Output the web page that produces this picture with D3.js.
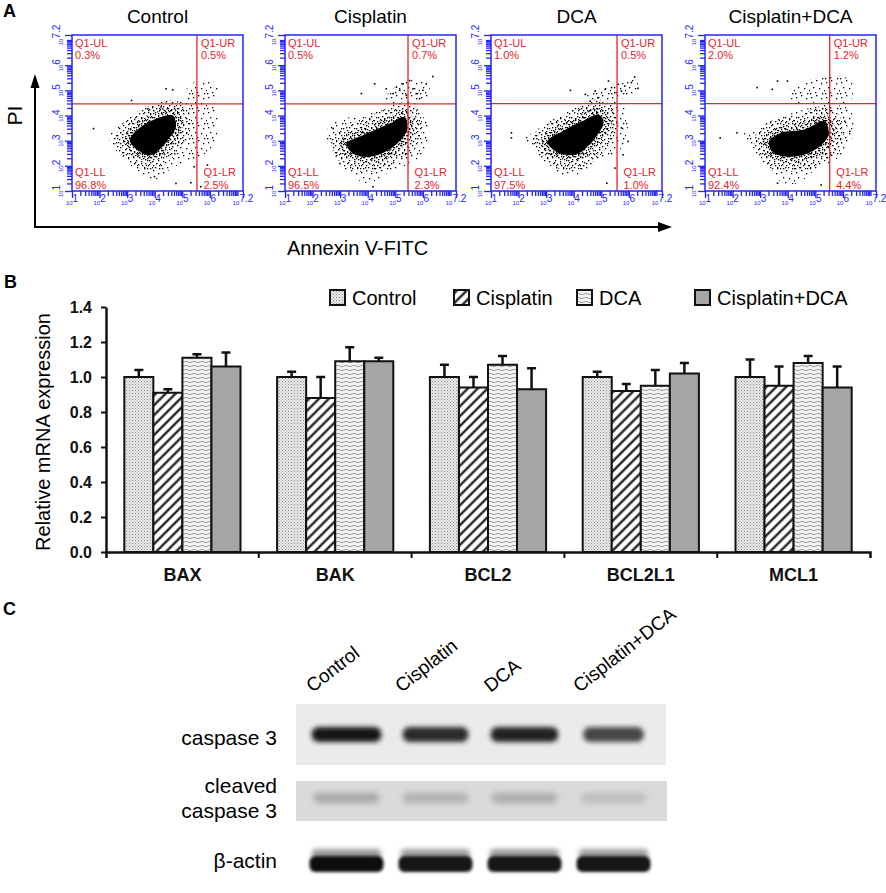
<!DOCTYPE html>
<html>
<head>
<meta charset="utf-8">
<script src="https://cdn.jsdelivr.net/npm/d3@7"></script>
<style>
body{margin:0;background:#fff}
text{font-family:Arial,'Liberation Sans',sans-serif}
</style>
</head>
<body>
<svg id="fig" width="886" height="893"></svg>
<script>
// ---------- panel A : flow cytometry (values in log10 units) ----------
var flowTitles = ['Control','Cisplatin','DCA','Cisplatin+DCA']
var pctUL = ['0.3%','0.5%','1.0%','2.0%']
var pctUR = ['0.5%','0.7%','0.5%','1.2%']
var pctLL = ['96.8%','96.5%','97.5%','92.4%']
var pctLR = ['2.5%','2.3%','1.0%','4.4%']
var gateX = [5.53,5.46,5.57,5.52]
var gateY = [4.46,4.46,4.47,4.47]
var flowExp = [1,2,3,4,5,6,7.2]

// dense core of each population
var coreCloud = [
	[[3.10,3.02],[3.51,3.55],[4.23,3.94],[4.65,4.01],[4.77,3.55],[4.47,3.02],[3.87,2.42],[3.40,2.62]],
	[[3.23,2.89],[3.83,3.22],[4.80,3.68],[5.34,3.94],[5.42,3.41],[4.92,2.75],[4.07,2.36],[3.47,2.49]],
	[[3.05,2.97],[3.59,3.37],[4.30,3.77],[4.90,4.04],[5.08,3.77],[4.78,3.11],[4.06,2.44],[3.35,2.57]],
	[[3.32,2.97],[3.75,3.31],[4.60,3.44],[5.33,3.77],[5.48,3.24],[5.09,2.71],[4.24,2.37],[3.50,2.51]]
]
// scattered events around the core
var haloCloud = [
	[[2.32,3.15],[2.80,3.68],[3.87,4.34],[4.95,4.60],[6.15,4.34],[6.21,3.02],[5.67,2.36],[4.71,1.96],[3.99,1.44],[3.51,1.70],[2.80,2.36]],
	[[2.57,3.55],[3.35,3.94],[4.55,4.21],[5.52,4.21],[6.12,3.81],[6.18,3.02],[5.76,2.23],[4.67,1.70],[4.07,1.30],[3.47,1.57],[2.75,2.49],[2.51,3.02]],
	[[2.16,3.04],[2.87,3.51],[3.82,4.17],[4.90,4.57],[5.73,4.57],[5.97,3.77],[5.73,2.71],[4.90,2.17],[4.06,1.64],[3.47,1.64],[2.87,2.44],[2.39,2.84]],
	[[2.40,3.24],[3.14,3.64],[4.36,4.17],[5.58,4.44],[6.31,4.17],[6.31,2.97],[5.82,2.31],[5.09,1.91],[4.36,1.31],[3.75,1.37],[3.14,2.31],[2.65,2.84]]
]
// events above the PI gate
var upperCloud = [
	[[5.10,4.95],[5.40,5.30],[5.80,5.35],[6.25,5.30],[6.25,4.70],[5.60,4.55],[5.15,4.60]],
	[[4.60,4.60],[5.00,5.15],[5.60,5.40],[6.20,5.30],[6.10,4.60]],
	[[4.30,4.60],[4.80,5.00],[5.50,5.30],[6.30,5.40],[6.20,4.90],[5.40,4.60]],
	[[4.11,5.11],[4.85,5.44],[5.82,5.57],[6.31,5.37],[6.25,4.57],[4.85,4.51],[4.17,4.57]]
]
var outlierEvents = [
	[[1.78,3.48],[3.16,4.60],[4.41,5.06],[4.65,5.02],[3.75,4.27],[4.23,4.34],[4.77,1.30],[5.31,1.33],[5.67,1.17],[5.43,1.96],[5.91,2.03],[3.99,1.57]],
	[[4.67,5.06],[5.04,5.13],[5.28,5.26],[5.52,5.39],[5.76,4.87],[6.00,5.00],[6.36,5.55],[4.92,4.87],[5.40,4.80],[5.88,4.67],[4.25,5.26],[3.77,4.87],[5.16,5.00],[5.64,5.06],[6.12,5.26],[2.75,3.48],[2.99,2.09],[4.19,1.17]],
	[[3.88,5.00],[4.42,4.84],[4.78,4.97],[5.14,5.04],[5.37,5.11],[5.61,5.24],[5.85,5.17],[6.09,5.31],[6.33,5.08],[6.21,5.53],[5.26,5.37],[4.60,4.57],[5.49,4.91],[4.90,4.71],[5.73,4.97],[5.73,3.51],[5.97,2.97],[5.79,2.44],[5.49,1.91],[1.74,3.31],[1.74,3.11],[5.20,1.31]],
	[[1.55,3.11],[2.16,3.31],[2.89,5.11],[3.63,5.37],[3.44,5.04],[3.99,5.37],[6.07,3.77],[6.25,3.37],[5.21,1.24],[3.63,1.31]]
]

// ---------- panel B : qPCR ----------
var genes = ['BAX','BAK','BCL2','BCL2L1','MCL1']
var treatments = ['Control','Cisplatin','DCA','Cisplatin+DCA']
var mrnaControl   = [1.00,1.00,1.00,1.00,1.00]
var mrnaCisplatin = [0.91,0.88,0.94,0.92,0.95]
var mrnaDCA       = [1.11,1.09,1.07,0.95,1.08]
var mrnaCisDCA    = [1.06,1.09,0.93,1.02,0.94]
var errControl    = [0.04,0.03,0.07,0.03,0.10]
var errCisplatin  = [0.02,0.12,0.06,0.04,0.11]
var errDCA        = [0.02,0.08,0.05,0.09,0.04]
var errCisDCA     = [0.08,0.02,0.12,0.06,0.12]
var yTicksB = [0,0.2,0.4,0.6,0.8,1.0,1.2,1.4]

// ---------- panel C : western blot ----------
var lanes = ['Control','Cisplatin','DCA','Cisplatin+DCA']
var casp3Band   = [0.95,0.86,0.90,0.74]
var cleavedBand = [0.20,0.16,0.18,0.11]
var actinBand   = [1.00,0.97,0.98,0.97]

var blue = '#2424ff', red = '#e3242b'
var svg = d3.select('#fig')
svg.append('rect').attr('width',886).attr('height',893).attr('fill','#fff')
var defs = svg.append('defs')

function dotPattern(id,size,pts){
	var p = defs.append('pattern').attr('id',id).attr('patternUnits','userSpaceOnUse')
		.attr('width',size).attr('height',size)
	pts.forEach(d=>p.append('rect').attr('x',d[0]).attr('y',d[1]).attr('width',1.3).attr('height',1.3).attr('fill','#000'))
}
dotPattern('denseDots',12,[[0,1],[3,0],[7,2],[10,1],[1,4],[5,5],[9,4],[2,8],[6,7],[11,7],[4,10],[8,10],[0,11],[10,10],[3,3],[7,9],[5,1],[9,6]])
dotPattern('midDots',11,[[1,1],[6,0],[9,4],[3,5],[7,7],[0,8],[4,9],[10,9]])
dotPattern('sparseDots',15,[[1,2],[6,0],[11,3],[3,7],[9,8],[14,10],[5,12],[12,13],[0,13]])

var pStip = defs.append('pattern').attr('id','stipple').attr('patternUnits','userSpaceOnUse').attr('width',3).attr('height',3)
pStip.append('rect').attr('width',3).attr('height',3).attr('fill','#ececec')
pStip.append('rect').attr('width',1).attr('height',1).attr('fill','#8a8a8a')
pStip.append('rect').attr('x',1.5).attr('y',1.5).attr('width',1).attr('height',1).attr('fill','#9a9a9a')

var pHatch = defs.append('pattern').attr('id','hatch').attr('patternUnits','userSpaceOnUse')
	.attr('width',7).attr('height',7).attr('patternTransform','rotate(45)')
pHatch.append('rect').attr('width',7).attr('height',7).attr('fill','#fff')
pHatch.append('line').attr('x1',3.5).attr('y1',0).attr('x2',3.5).attr('y2',7).attr('stroke','#111').attr('stroke-width',2.2)

var pWave = defs.append('pattern').attr('id','wave').attr('patternUnits','userSpaceOnUse').attr('width',8).attr('height',4)
pWave.append('rect').attr('width',8).attr('height',4).attr('fill','#f3f3f3')
pWave.append('path').attr('d','M0 2 Q2 0.6 4 2 T8 2').attr('fill','none').attr('stroke','#888').attr('stroke-width',0.8)

function blur(id,s){
	defs.append('filter').attr('id',id).attr('x','-40%').attr('y','-80%').attr('width','180%').attr('height','260%')
		.append('feGaussianBlur').attr('stdDeviation',s)
}
blur('blurBand',2.4)
blur('blurFaint',3)
blur('blurActin',1.4)
blur('blurSmear',2.5)

// ================= A =================
svg.append('text').text('A').attr('x',3).attr('y',17).attr('font-size',18).attr('font-weight','bold')

var boxLeft = [72,285,491,705], boxTop = 35, boxW = 171, boxH = 156
var flowTicks = []
for (var d=1; d<=7; d++) for (var k=1; k<10; k++) {
	var v = d + Math.log10(k)
	if (v<=7.2) flowTicks.push(v)
}
flowTicks.push(7.2)

flowTitles.forEach((title,i)=>{
	var g = svg.append('g').attr('transform',`translate(${boxLeft[i]},${boxTop})`)
	var x = d3.scaleLinear().domain([1,7.2]).range([0,boxW])
	var y = d3.scaleLinear().domain([1,7.2]).range([boxH,0])
	var blob = d3.line().x(d=>x(d[0])).y(d=>y(d[1])).curve(d3.curveCatmullRomClosed)

	defs.append('clipPath').attr('id','clip'+i).append('rect').attr('width',boxW).attr('height',boxH)
	var plot = g.append('g').attr('clip-path',`url(#clip${i})`)
	plot.append('path').datum(haloCloud[i]).attr('d',blob).attr('fill','url(#sparseDots)')
	plot.append('path').datum(upperCloud[i]).attr('d',blob).attr('fill','url(#sparseDots)')
	plot.append('path').datum(coreCloud[i]).attr('d',blob)
		.attr('fill','none').attr('stroke','url(#midDots)').attr('stroke-width',30).attr('stroke-linejoin','round')
	plot.append('path').datum(coreCloud[i]).attr('d',blob)
		.attr('fill','#000').attr('stroke','url(#denseDots)').attr('stroke-width',13).attr('stroke-linejoin','round')
	plot.selectAll('rect.ev').data(outlierEvents[i]).join('rect').attr('class','ev')
		.attr('x',d=>x(d[0])-0.8).attr('y',d=>y(d[1])-0.8).attr('width',1.6).attr('height',1.6).attr('fill','#000')

	// gates
	g.append('line').attr('x1',x(gateX[i])).attr('x2',x(gateX[i])).attr('y1',0).attr('y2',boxH)
		.attr('stroke',red).attr('stroke-width',1.3)
	g.append('line').attr('x1',0).attr('x2',boxW).attr('y1',y(gateY[i])).attr('y2',y(gateY[i]))
		.attr('stroke',red).attr('stroke-width',1.3)

	// frame + log axes
	g.append('rect').attr('width',boxW).attr('height',boxH).attr('fill','none').attr('stroke',blue).attr('stroke-width',1.5)
	var ax = g.append('g').attr('transform',`translate(0,${boxH})`)
		.call(d3.axisBottom(x).tickValues(flowTicks).tickFormat('').tickSize(5).tickSizeOuter(0))
	var ay = g.append('g')
		.call(d3.axisLeft(y).tickValues(flowTicks).tickFormat('').tickSize(5).tickSizeOuter(0))
	;[ax,ay].forEach(a=>{
		a.select('.domain').remove()
		a.selectAll('line').attr('stroke',blue).attr('stroke-width',1.3)
	})
	ax.selectAll('.tick line').filter(d=>flowExp.includes(d)).attr('y2',7)
	ay.selectAll('.tick line').filter(d=>flowExp.includes(d)).attr('x2',-7)

	flowExp.forEach(v=>{
		var tx = g.append('text').attr('x',x(v)).attr('y',boxH+14).attr('text-anchor','middle').attr('fill',blue)
		tx.append('tspan').attr('font-size',6).text('10')
		tx.append('tspan').attr('font-size',10).attr('dy',-3).text(v)
		var ty = g.append('text').attr('transform',`translate(-9,${y(v)}) rotate(-90)`).attr('text-anchor','middle').attr('fill',blue)
		ty.append('tspan').attr('font-size',6).text('10')
		ty.append('tspan').attr('font-size',10).attr('dy',-3).text(v)
	})

	// quadrant labels (two separate lines)
	function quad(px,py,name,pct){
		g.append('text').attr('fill',red).attr('font-size',11).attr('x',px).attr('y',py).text(name)
		g.append('text').attr('fill',red).attr('font-size',11).attr('x',px).attr('y',py+12.8).text(pct)
	}
	quad(3,11.5,'Q1-UL',pctUL[i])
	quad(x(gateX[i])+4,11.5,'Q1-UR',pctUR[i])
	quad(3,boxH-15,'Q1-LL',pctLL[i])
	quad(x(gateX[i])+6.5,boxH-15,'Q1-LR',pctLR[i])

	g.append('text').text(title).attr('x',boxW/2).attr('y',-12.5)
		.attr('text-anchor','middle').attr('font-size',19)
})

// big axis arrows
svg.append('line').attr('x1',35).attr('y1',227).attr('x2',35).attr('y2',86).attr('stroke','#000').attr('stroke-width',2)
svg.append('path').attr('d','M35,74 L30.5,88 L39.5,88 Z').attr('fill','#000')
svg.append('line').attr('x1',34).attr('y1',227).attr('x2',660).attr('y2',227).attr('stroke','#000').attr('stroke-width',2)
svg.append('path').attr('d','M672,227 L658,222 L658,232 Z').attr('fill','#000')
svg.append('text').text('PI').attr('transform','translate(22,115.5) rotate(-90)')
	.attr('text-anchor','middle').attr('font-size',21)
svg.append('text').text('Annexin V-FITC').attr('x',287).attr('y',255).attr('font-size',20)

// ================= B =================
svg.append('text').text('B').attr('x',4).attr('y',288).attr('font-size',18).attr('font-weight','bold')

var seriesB = [mrnaControl,mrnaCisplatin,mrnaDCA,mrnaCisDCA]
var errB = [errControl,errCisplatin,errDCA,errCisDCA]
var fillB = ['url(#stipple)','url(#hatch)','url(#wave)','#a5a5a5']

var xB = d3.scaleBand().domain(genes).range([106,870])
var xIn = d3.scaleBand().domain(treatments).range([0,xB.bandwidth()]).paddingOuter(0.63)
var yB = d3.scaleLinear().domain([0,1.4]).range([552,307])

var barRows = []
genes.forEach((gname,gi)=>treatments.forEach((t,ti)=>barRows.push({
	gene:gname, t:t, ti:ti, v:seriesB[ti][gi], e:errB[ti][gi]
})))
var cx = d=>xB(d.gene)+xIn(d.t)+xIn.bandwidth()/2

var bars = svg.append('g')
bars.selectAll('line.err').data(barRows).join('line').attr('class','err')
	.attr('x1',cx).attr('x2',cx)
	.attr('y1',d=>yB(d.v)).attr('y2',d=>yB(d.v+d.e)).attr('stroke','#111').attr('stroke-width',2.5)
bars.selectAll('line.cap').data(barRows).join('line').attr('class','cap')
	.attr('x1',d=>cx(d)-4.5).attr('x2',d=>cx(d)+4.5)
	.attr('y1',d=>yB(d.v+d.e)).attr('y2',d=>yB(d.v+d.e)).attr('stroke','#111').attr('stroke-width',2.5)
bars.selectAll('rect').data(barRows).join('rect')
	.attr('x',d=>xB(d.gene)+xIn(d.t)).attr('width',xIn.bandwidth())
	.attr('y',d=>yB(d.v)).attr('height',d=>yB(0)-yB(d.v))
	.attr('fill',d=>fillB[d.ti]).attr('stroke','#111').attr('stroke-width',2)

var yAxisB = svg.append('g').attr('transform','translate(106,0)')
	.call(d3.axisLeft(yB).tickValues(yTicksB).tickFormat(d3.format('.1f')).tickSize(5).tickSizeOuter(0))
yAxisB.select('.domain').attr('stroke','#111').attr('stroke-width',2.5)
yAxisB.selectAll('.tick line').attr('stroke','#111').attr('stroke-width',2)
yAxisB.selectAll('.tick text').attr('font-size',16).attr('font-weight','bold').attr('fill','#111')
	.attr('font-family','Arial, Liberation Sans, sans-serif').attr('dx',-6)

var xAxisB = svg.append('g').attr('transform','translate(0,552)')
	.call(d3.axisBottom(xB).tickSize(0).tickSizeOuter(6).tickPadding(10))
xAxisB.select('.domain').attr('stroke','#111').attr('stroke-width',2.5)
xAxisB.selectAll('.tick text').attr('font-size',18).attr('font-weight','bold').attr('fill','#111')
	.attr('font-family','Arial, Liberation Sans, sans-serif').attr('dy','1.05em')
xAxisB.selectAll('line.sep').data(genes.slice(1)).join('line').attr('class','sep')
	.attr('x1',d=>xB(d)).attr('x2',d=>xB(d)).attr('y1',0).attr('y2',6)
	.attr('stroke','#111').attr('stroke-width',2)

svg.append('text').text('Relative mRNA expression').attr('transform','translate(50,432) rotate(-90)')
	.attr('text-anchor','middle').attr('font-size',20)

var legendX = [330,454,577,695]
treatments.forEach((t,i)=>{
	svg.append('rect').attr('x',legendX[i]).attr('y',290).attr('width',15).attr('height',15)
		.attr('fill',fillB[i]).attr('stroke','#111').attr('stroke-width',2)
	svg.append('text').text(t).attr('x',legendX[i]+22).attr('y',305).attr('font-size',20)
})

// ================= C =================
svg.append('text').text('C').attr('x',3).attr('y',615).attr('font-size',18).attr('font-weight','bold')

var xL = d3.scaleBand().domain(lanes).range([302,658])
var shade = d3.interpolateRgb('#e6e6e6','#0e0e0e')
var mid = d=>xL(d)+xL.bandwidth()/2

// lane labels
svg.selectAll('text.lane').data(lanes).join('text').attr('class','lane')
	.attr('transform',d=>`translate(${mid(d)-34},693) rotate(-38)`)
	.attr('font-size',19).text(d=>d)

// caspase 3
svg.append('rect').attr('x',296).attr('y',704).attr('width',370).attr('height',61).attr('fill','#ebebeb')
svg.selectAll('rect.c3').data(lanes).join('rect').attr('class','c3')
	.attr('x',(d,i)=>mid(d)-36*(0.4+0.6*casp3Band[i]))
	.attr('width',(d,i)=>72*(0.4+0.6*casp3Band[i]))
	.attr('y',727).attr('height',15).attr('rx',7)
	.attr('fill',(d,i)=>shade(casp3Band[i])).attr('filter','url(#blurBand)')

// cleaved caspase 3
svg.append('rect').attr('x',296).attr('y',781).attr('width',371).attr('height',40).attr('fill','#dadada')
svg.selectAll('rect.cl').data(lanes).join('rect').attr('class','cl')
	.attr('x',d=>mid(d)-33).attr('width',66)
	.attr('y',793).attr('height',10).attr('rx',5)
	.attr('fill',(d,i)=>d3.interpolateRgb('#dadada','#555')(cleavedBand[i]*2)).attr('filter','url(#blurFaint)')

// beta-actin: faint smear above, dark band below
svg.selectAll('rect.acs').data(lanes).join('rect').attr('class','acs')
	.attr('x',d=>mid(d)-35).attr('width',70)
	.attr('y',849).attr('height',10).attr('rx',5)
	.attr('fill',(d,i)=>shade(actinBand[i]*0.35)).attr('filter','url(#blurSmear)')
svg.selectAll('rect.ac').data(lanes).join('rect').attr('class','ac')
	.attr('x',d=>mid(d)-37).attr('width',74)
	.attr('y',856).attr('height',16).attr('rx',6)
	.attr('fill',(d,i)=>shade(actinBand[i])).attr('filter','url(#blurActin)')

var rowLabels = svg.append('g').attr('font-size',21).attr('text-anchor','end')
rowLabels.append('text').attr('x',277).attr('y',745).text('caspase 3')
rowLabels.append('text').attr('x',277).attr('y',793).text('cleaved')
rowLabels.append('text').attr('x',277).attr('y',818).text('caspase 3')
rowLabels.append('text').attr('x',277).attr('y',868).text('β-actin')
</script>
</body>
</html>
